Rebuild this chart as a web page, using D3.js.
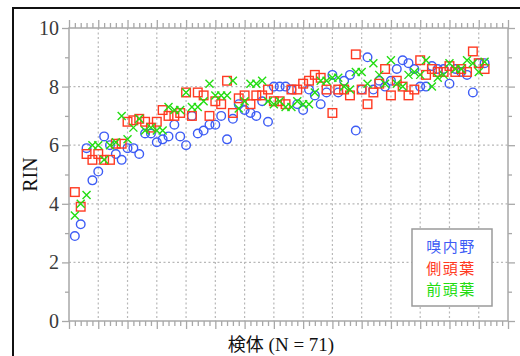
<!DOCTYPE html>
<html>
<head>
<meta charset="utf-8">
<script src="https://cdn.jsdelivr.net/npm/d3@7"></script>
<style>
  html, body { margin: 0; padding: 0; background: #fff; }
  svg { display: block; }
  .serif { font-family: "Liberation Serif", "DejaVu Serif", "Times New Roman", serif; }
  .cjk { font-family: "Noto Sans CJK JP", "Noto Sans CJK SC", sans-serif; }
</style>
</head>
<body>
<svg id="chart" width="520" height="356"></svg>
<script>
// Specimen numbers 1..71 along the x axis
const specimens = d3.range(1, 72);

// RIN per specimen, one array per brain region
const entorhinal = [
  2.9, 3.3, 5.9, 4.8, 5.1, 6.3, 6.0, 5.7, 5.5, 5.9,
  5.9, 5.7, 6.4, 6.4, 6.1, 6.2, 6.3, 6.7, 6.3, 6.0,
  7.0, 6.4, 6.5, 6.7, 6.7, 7.0, 6.2, 6.9, 7.4, 7.2,
  7.1, 7.0, 7.5, 6.8, 8.0, 8.0, 8.0, 7.9, 7.4, 7.2,
  7.9, 7.7, 7.4, 7.8, 8.4, 7.8, 8.2, 8.4, 6.5, 7.9,
  9.0, 7.9, 8.2, 8.0, 8.2, 8.6, 8.9, 8.8, 8.6, 8.0,
  8.0, 8.7, 8.6, 8.6, 8.1, 8.6, 8.5, 8.4, 7.8, 8.8,
  8.8
];
const temporal = [
  4.4, 3.9, 5.7, 5.5, 5.7, 5.5, 5.5, 6.05, 6.05, 6.8,
  6.85, 6.9, 6.8, 6.6, 6.8, 7.2, 7.0, 7.0, 7.1, 7.8,
  7.0, 7.8, 7.7, 7.0, 7.5, 7.4, 8.2, 7.1, 7.6, 7.7,
  7.4, 7.7, 7.7, 7.9, 7.5, 7.5, 7.4, 7.9, 7.9, 8.1,
  8.2, 8.4, 8.3, 7.9, 7.1, 7.9, 7.9, 7.7, 9.1, 7.9,
  7.4, 7.8, 8.1, 8.6, 7.7, 8.2, 8.0, 7.7, 7.9, 8.9,
  8.4, 8.6, 8.5, 8.5, 8.7, 8.5, 8.6, 8.5, 9.2, 8.8,
  8.6
];
const frontal = [
  3.6, 4.0, 4.3, 6.0, 6.0, 5.5, 6.0, 6.1, 7.0, 6.2,
  6.6, 6.9, 6.5, 6.6, 6.5, 6.5, 7.3, 7.2, 7.2, 7.8,
  7.3, 7.3, 7.5, 8.1, 7.7, 7.7, 7.7, 8.2, 7.25, 7.5,
  8.1, 8.1, 8.2, 7.5, 7.4, 7.5, 7.3, 7.3, 7.5, 7.4,
  7.4, 7.8, 8.2, 8.2, 8.3, 8.3, 8.0, 7.9, 8.5, 8.5,
  8.1, 8.8, 8.4, 8.1, 8.9, 8.1, 8.0, 8.4, 8.5, 8.4,
  8.9, 8.0, 8.3, 8.4, 8.8, 8.6, 8.6, 8.9, 8.8, 8.5,
  8.85
];

const seriesNames = ["嗅内野", "側頭葉", "前頭葉"];
const xMajorTicks = d3.range(0, 76, 5);
const yMajorTicks = [0, 2, 4, 6, 8, 10];
const yMinorTicks = [1, 3, 5, 7, 9];

const colors = { blue: "#3d5cf5", red: "#ff3a22", green: "#22dd11" };
const axisGray = "#a8a8a8";
const gridGray = "#b8b8b8";

const svg = d3.select("#chart");
const L = 69, R = 508, T = 28, B = 321;

const x = d3.scaleLinear().domain([0, 75]).range([L, R]);
const y = d3.scaleLinear().domain([0, 10]).range([B, T]);

// Outer figure frame (extends past the right and bottom edges)
svg.append("path")
  .attr("d", "M13,360 L13,8 L530,8")
  .attr("fill", "none").attr("stroke", "#111").attr("stroke-width", 2);

// Dotted grid
const grid = svg.append("g").attr("stroke", gridGray).attr("stroke-width", 1.2)
  .attr("stroke-dasharray", "2,2.5");
grid.selectAll("line.v").data(xMajorTicks.filter(d => d > 0 && d < 75)).join("line")
  .attr("x1", d => x(d)).attr("x2", d => x(d)).attr("y1", T).attr("y2", B);
grid.selectAll("line.h").data(yMajorTicks.filter(d => d > 0 && d < 10)).join("line")
  .attr("x1", L).attr("x2", R).attr("y1", d => y(d)).attr("y2", d => y(d));

// Axis ticks drawn with d3 axes, all pointing outward
function styleAxis(g) {
  g.select(".domain").remove();
  g.selectAll(".tick line").attr("stroke", axisGray).attr("stroke-width", 1.3);
}
const xMinor = d3.range(0, 76).filter(d => d % 5 !== 0);
svg.append("g").attr("transform", `translate(0,${B})`)
  .call(d3.axisBottom(x).tickValues(xMajorTicks).tickSize(8).tickFormat("")).call(styleAxis);
svg.append("g").attr("transform", `translate(0,${B})`)
  .call(d3.axisBottom(x).tickValues(xMinor).tickSize(5).tickFormat("")).call(styleAxis);
svg.append("g").attr("transform", `translate(0,${T})`)
  .call(d3.axisTop(x).tickValues(xMajorTicks).tickSize(8).tickFormat("")).call(styleAxis);
svg.append("g").attr("transform", `translate(0,${T})`)
  .call(d3.axisTop(x).tickValues(xMinor).tickSize(5).tickFormat("")).call(styleAxis);

const leftAxis = svg.append("g").attr("transform", `translate(${L},0)`)
  .call(d3.axisLeft(y).tickValues(yMajorTicks).tickSize(7).tickPadding(3).tickFormat(d3.format("d")))
  .call(styleAxis);
leftAxis.attr("font-family", null).attr("font-size", null);
leftAxis.selectAll("text")
  .attr("class", "serif")
  .style("font-size", "20px").attr("fill", "#3a3a3a");
svg.append("g").attr("transform", `translate(${L},0)`)
  .call(d3.axisLeft(y).tickValues(yMinorTicks).tickSize(4).tickFormat("")).call(styleAxis);
svg.append("g").attr("transform", `translate(${R},0)`)
  .call(d3.axisRight(y).tickValues(yMajorTicks).tickSize(7).tickFormat("")).call(styleAxis);
svg.append("g").attr("transform", `translate(${R},0)`)
  .call(d3.axisRight(y).tickValues(yMinorTicks).tickSize(4).tickFormat("")).call(styleAxis);

// Plot frame
svg.append("rect").attr("x", L).attr("y", T).attr("width", R - L).attr("height", B - T)
  .attr("fill", "none").attr("stroke", axisGray).attr("stroke-width", 1.5);

// Markers
const pts = (vals) => specimens.map((s, i) => ({ s, v: vals[i] }));

svg.append("g").selectAll("circle").data(pts(entorhinal)).join("circle")
  .attr("cx", d => x(d.s)).attr("cy", d => y(d.v)).attr("r", 4.3)
  .attr("fill", "none").attr("stroke", colors.blue).attr("stroke-width", 1.4);

const sq = 8.6;
svg.append("g").selectAll("rect").data(pts(temporal)).join("rect")
  .attr("x", d => x(d.s) - sq / 2).attr("y", d => y(d.v) - sq / 2)
  .attr("width", sq).attr("height", sq)
  .attr("fill", "none").attr("stroke", colors.red).attr("stroke-width", 1.4);

const xs = 4;
svg.append("g").selectAll("path").data(pts(frontal)).join("path")
  .attr("d", d => {
    const cx = x(d.s), cy = y(d.v);
    return `M${cx - xs},${cy - xs}L${cx + xs},${cy + xs}M${cx - xs},${cy + xs}L${cx + xs},${cy - xs}`;
  })
  .attr("fill", "none").attr("stroke", colors.green).attr("stroke-width", 1.4);

// Axis titles
svg.append("text")
  .attr("class", "serif")
  .attr("transform", `translate(37,${(T + B) / 2}) rotate(-90)`)
  .attr("text-anchor", "middle")
  .style("font-size", "20px").attr("fill", "#111")
  .text("RIN");

const xTitle = svg.append("text")
  .attr("x", 281).attr("y", 351)
  .attr("text-anchor", "middle")
  .style("font-size", "18px").attr("fill", "#111");
xTitle.append("tspan").attr("class", "cjk").text("検体");
xTitle.append("tspan").attr("class", "serif").style("font-size", "19px").text(" (N = 71)");

// Legend
const legend = svg.append("g");
legend.append("rect").attr("x", 412).attr("y", 229).attr("width", 80).attr("height", 77)
  .attr("fill", "#fff").attr("stroke", "#9a9a9a").attr("stroke-width", 1.5);
const legendColors = [colors.blue, colors.red, colors.green];
legend.selectAll("text").data(seriesNames).join("text")
  .attr("class", "cjk")
  .attr("x", 451).attr("y", (d, i) => 252 + i * 21.7)
  .attr("text-anchor", "middle")
  .style("font-size", "15px")
  .style("letter-spacing", "1.5px")
  .attr("fill", (d, i) => legendColors[i])
  .text(d => d);
</script>
</body>
</html>
